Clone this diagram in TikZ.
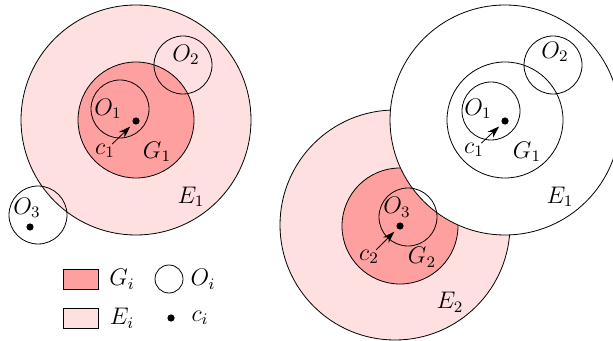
\documentclass[tikz,border=0pt]{standalone}
\usepackage{amsmath, amssymb}
\usetikzlibrary{arrows.meta}
\definecolor{epink}{RGB}{255,224,224}
\definecolor{gpink}{RGB}{255,160,160}
\tikzset{dot/.style={circle, fill, inner sep=0pt, minimum size=3.6pt}}
\tikzset{legbox/.style={draw, minimum width=17.5pt, minimum height=10pt, inner sep=0pt}}
\tikzset{toc/.style={-{Stealth[length=6pt,width=4pt]}, shorten <=5pt, shorten >=2pt}}

\begin{document}
\begin{tikzpicture}[x=0.5pt,y=-0.5pt,font=\large]
\useasboundingbox (0,0) rectangle (613,341);
\clip (0,0) rectangle (613,341);
% first diagram
\draw[fill=epink] (136,120) circle (115);
\draw[fill=gpink] (136,120) circle (58);
\draw (120,109) circle (29);
\draw (183,65) circle (29);
\draw (38,215) circle (29);
\node[dot] (c1) at (136,121) {};
\node[dot] (c3) at (30,227) {};
\node (O1) at (108,109) {$O_1$};
\node (O2) at (186,55) {$O_2$};
\node (O3) at (27,208) {$O_3$};
\node (c1l) at (105,151) {$c_1$};
\node (G1) at (157,152) {$G_1$};
\node (E1) at (191,197) {$E_1$};
\draw[toc] (c1l.center) -- (c1);
% second diagram
\draw[fill=epink] (395,225) circle (115);
\draw[fill=gpink] (400,226) circle (58);
\draw[fill=white] (505,120) circle (115);
\draw (505,120) circle (58);
\draw (491,111) circle (29);
\draw (553,65) circle (29);
\draw (408,217) circle (29);
\node[dot] (c1r) at (505,121) {};
\node[dot] (c2) at (400,226) {};
\node (O1r) at (478,109) {$O_1$};
\node (O2r) at (555,52) {$O_2$};
\node (O3r) at (397,207) {$O_3$};
\node (c1rl) at (474,150) {$c_1$};
\node (G1r) at (527,152) {$G_1$};
\node (E1r) at (560,197) {$E_1$};
\node (c2l) at (369,257) {$c_2$};
\node (G2) at (422,257) {$G_2$};
\node (E2) at (450,302) {$E_2$};
\draw[toc] (c1rl.center) -- (c1r);
\draw[toc] (c2l.center) -- (c2);
% legend
\node[legbox, fill=gpink] (keyG) at (80.5,279) {};
\node[legbox, fill=epink] (keyE) at (80.5,318) {};
\node (keyGl) at (122,279) {$G_i$};
\node (keyEl) at (122,318) {$E_i$};
\node[circle, draw, inner sep=0pt, minimum size=14pt] (keyO) at (169,279) {};
\node[dot] (keyc) at (171,318) {};
\node (keyOl) at (203,279) {$O_i$};
\node (keycl) at (200,318) {$c_i$};
\end{tikzpicture}
\end{document}
